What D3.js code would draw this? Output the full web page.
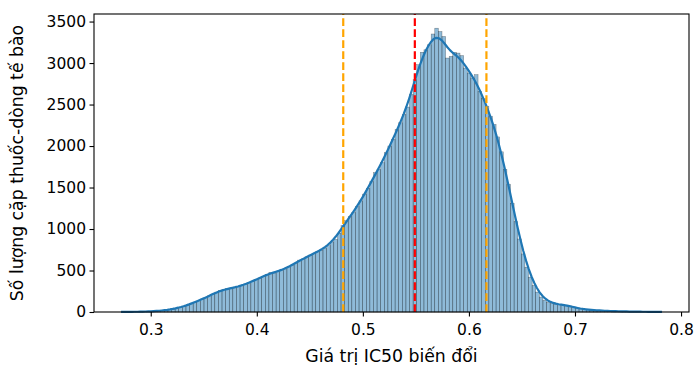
<!DOCTYPE html>
<html>
  <head>
    <meta charset="utf-8" />
    <script src="https://d3js.org/d3.v7.min.js"></script>
    <style>
      body { margin: 0; background: #fff; }
      text { font-family: "DejaVu Sans", sans-serif; fill: #000; }
    </style>
  </head>
  <body>
    <svg id="chart" width="696" height="367"></svg>
    <script>
      // histogram: 150 bins from 0.272 to 0.782 (counts)
      const binStart = 0.272;
      const binWidth = 0.0034;
      const counts = [
        1, 1, 2, 2, 3, 4, 5, 6, 8, 10,
        14, 17, 22, 28, 36, 46, 56, 70, 82, 100,
        118, 135, 155, 175, 195, 215, 240, 262, 272, 282,
        285, 292, 305, 318, 335, 352, 372, 392, 410, 430,
        455, 478, 470, 490, 500, 520, 545, 565, 590, 625,
        640, 665, 685, 705, 730, 745, 770, 800, 845, 875,
        950, 1040, 1100, 1150, 1200, 1270, 1340, 1420, 1490, 1570,
        1680, 1720, 1800, 1920, 2000, 2080, 2200, 2280, 2380, 2470,
        2620, 2800, 2980, 3130, 3160, 3220, 3350, 3420, 3380, 3320,
        3060, 3080, 3130, 3120, 3090, 2940, 2880, 2820, 2860, 2660,
        2570, 2480, 2360, 2260, 2110, 1930, 1720, 1540, 1310, 1090,
        880, 700, 540, 420, 320, 240, 180, 140, 115, 100,
        95, 92, 88, 82, 72, 58, 46, 38, 32, 28,
        24, 21, 18, 16, 14, 12, 10, 9, 8, 7,
        6, 5, 4, 4, 3, 3, 2, 2, 1, 1
      ];
      const refLines = [
        { value: 0.4815, color: "orange" },
        { value: 0.549, color: "red" },
        { value: 0.6165, color: "orange" }
      ];
      const xTicks = [0.3, 0.4, 0.5, 0.6, 0.7, 0.8];
      const yTicks = [0, 500, 1000, 1500, 2000, 2500, 3000, 3500];
      const xTitle = "Giá trị IC50 biến đổi";
      const yTitle = "Số lượng cặp thuốc-dòng tế bào";

      const svg = d3.select("#chart");
      const margin = { left: 94, right: 7, top: 14, bottom: 55 };
      const width = +svg.attr("width");
      const height = +svg.attr("height");
      const tickFont = 15.5;
      const titleFont = 17.3;

      const bins = counts.map((c, i) => ({
        x0: binStart + i * binWidth,
        x1: binStart + (i + 1) * binWidth,
        count: c
      }));
      const xMin = binStart;
      const xMax = binStart + counts.length * binWidth;
      const pad = (xMax - xMin) * 0.05;

      const x = d3
        .scaleLinear()
        .domain([xMin - pad, xMax + pad])
        .range([margin.left, width - margin.right]);
      const y = d3
        .scaleLinear()
        .domain([0, d3.max(counts) * 1.05])
        .range([height - margin.bottom, margin.top]);

      // bars
      svg
        .append("g")
        .selectAll("rect")
        .data(bins)
        .join("rect")
        .attr("x", (d) => x(d.x0))
        .attr("width", (d) => x(d.x1) - x(d.x0))
        .attr("y", (d) => y(d.count))
        .attr("height", (d) => y(0) - y(d.count))
        .attr("fill", "#1f77b4")
        .attr("fill-opacity", 0.5)
        .attr("stroke", "#000")
        .attr("stroke-opacity", 0.45)
        .attr("stroke-width", 0.5);

      // kde line, smoothed from the bin counts (gaussian kernel)
      const bw = 0.0065;
      const kdeX = d3.range(200).map((i) => xMin + ((xMax - xMin) * i) / 199);
      const kde = kdeX.map((v) => {
        let s = 0;
        bins.forEach((b) => {
          const c = (b.x0 + b.x1) / 2;
          const z = (v - c) / bw;
          s += b.count * Math.exp(-0.5 * z * z);
        });
        return [v, (s * binWidth) / (bw * Math.sqrt(2 * Math.PI))];
      });
      svg
        .append("path")
        .datum(kde)
        .attr("fill", "none")
        .attr("stroke", "#1f77b4")
        .attr("stroke-width", 2.2)
        .attr("stroke-linejoin", "round")
        .attr("d", d3.line().x((d) => x(d[0])).y((d) => y(d[1])));

      // dashed reference lines
      svg
        .append("g")
        .selectAll("line")
        .data(refLines)
        .join("line")
        .attr("x1", (d) => x(d.value))
        .attr("x2", (d) => x(d.value))
        .attr("y1", y.range()[0])
        .attr("y2", y.range()[1])
        .attr("stroke", (d) => d.color)
        .attr("stroke-width", 2.2)
        .attr("stroke-dasharray", "7.7,3.3");

      // axes
      const xAxis = svg
        .append("g")
        .attr("transform", `translate(0,${height - margin.bottom})`)
        .call(d3.axisBottom(x).tickValues(xTicks).tickFormat(d3.format(".1f")).tickSize(4.5).tickPadding(7.5));
      const yAxis = svg
        .append("g")
        .attr("transform", `translate(${margin.left},0)`)
        .call(d3.axisLeft(y).tickValues(yTicks).tickFormat(d3.format("d")).tickSize(4.5).tickPadding(3.5));
      [xAxis, yAxis].forEach((g) => {
        g.select(".domain").remove();
        g.selectAll("line").attr("stroke", "#000").attr("stroke-width", 1.1);
        g.selectAll("text").attr("font-size", tickFont).attr("font-family", "DejaVu Sans");
      });

      // frame
      svg
        .append("rect")
        .attr("x", margin.left)
        .attr("y", margin.top)
        .attr("width", width - margin.left - margin.right)
        .attr("height", height - margin.top - margin.bottom)
        .attr("fill", "none")
        .attr("stroke", "#000")
        .attr("stroke-width", 1.1);

      svg
        .append("text")
        .attr("x", (margin.left + width - margin.right) / 2)
        .attr("y", height - 5)
        .attr("text-anchor", "middle")
        .attr("font-size", titleFont)
        .text(xTitle);
      svg
        .append("text")
        .attr("transform", `translate(23,${(margin.top + height - margin.bottom) / 2}) rotate(-90)`)
        .attr("text-anchor", "middle")
        .attr("font-size", titleFont)
        .text(yTitle);
    </script>
  </body>
</html>
